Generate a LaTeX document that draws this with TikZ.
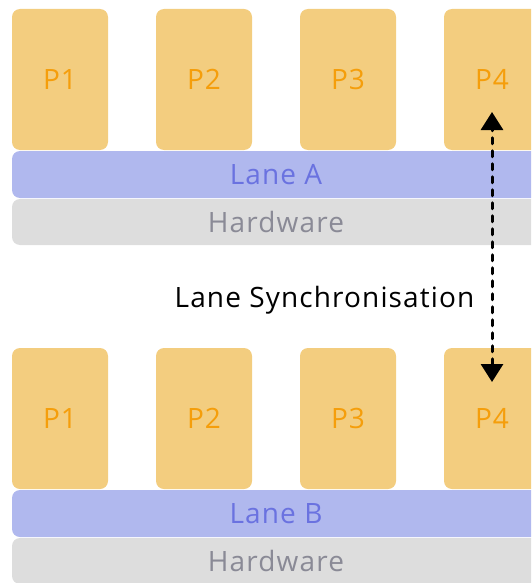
\documentclass[tikz,border=0pt]{standalone}
\usepackage{fontspec}
\setmainfont{Open Sans}[LetterSpace=4]
\usetikzlibrary{arrows.meta}
\definecolor{procfill}{HTML}{F3CD7F}
\definecolor{proctext}{HTML}{F59E0B}
\definecolor{lanefill}{HTML}{B0B8EE}
\definecolor{lanetext}{HTML}{6A72E0}
\definecolor{hwfill}{HTML}{DDDDDD}
\definecolor{hwtext}{HTML}{8A8A96}
\begin{document}
\begin{tikzpicture}[y=1pt, x=1pt, yscale=-1, inner sep=0pt, outer sep=0pt,
  pbox/.style={fill=procfill, rounded corners=8pt, minimum width=96pt,
    minimum height=141pt, text=proctext, font=\fontsize{28}{28}\selectfont},
  lanebar/.style={fill=lanefill, rounded corners=8pt, minimum width=528pt,
    minimum height=47pt, text=lanetext, font=\fontsize{28}{28}\selectfont},
  hwbar/.style={fill=hwfill, rounded corners=8pt, minimum width=528pt,
    minimum height=46pt, text=hwtext, font=\fontsize{28}{28}\selectfont},
  synclabel/.style={text=black, font=\fontsize{28}{28}\selectfont},
  syncarrow/.style={line width=3pt, line cap=round, dash pattern=on 6pt off 7pt,
    {Triangle[width=22pt,length=18pt]}-{Triangle[width=22pt,length=18pt]}}]
\useasboundingbox (0,0) rectangle (531,583);
\clip (0,0) rectangle (531,583);
% processes on both lanes
\foreach \i/\x in {1/60,2/204,3/348,4/492} {
  \node[pbox] (pA\i) at (\x,79.5) {P\i};
  \node[pbox] (pB\i) at (\x,418.5) {P\i};
}
% lanes and hardware
\node[lanebar] (laneA) at (276,174.5) {Lane A};
\node[hwbar] (hwA) at (276,222) {Hardware};
\node[lanebar] (laneB) at (276,513.5) {Lane B};
\node[hwbar] (hwB) at (276,561) {Hardware};
% synchronisation
\node[synclabel, anchor=base] (sync) at (324.5,307) {Lane Synchronisation};
\coordinate (syncTop) at (492,112);
\coordinate (syncBot) at (492,382);
\draw[syncarrow] (syncBot) -- (syncTop);
\end{tikzpicture}
\end{document}
